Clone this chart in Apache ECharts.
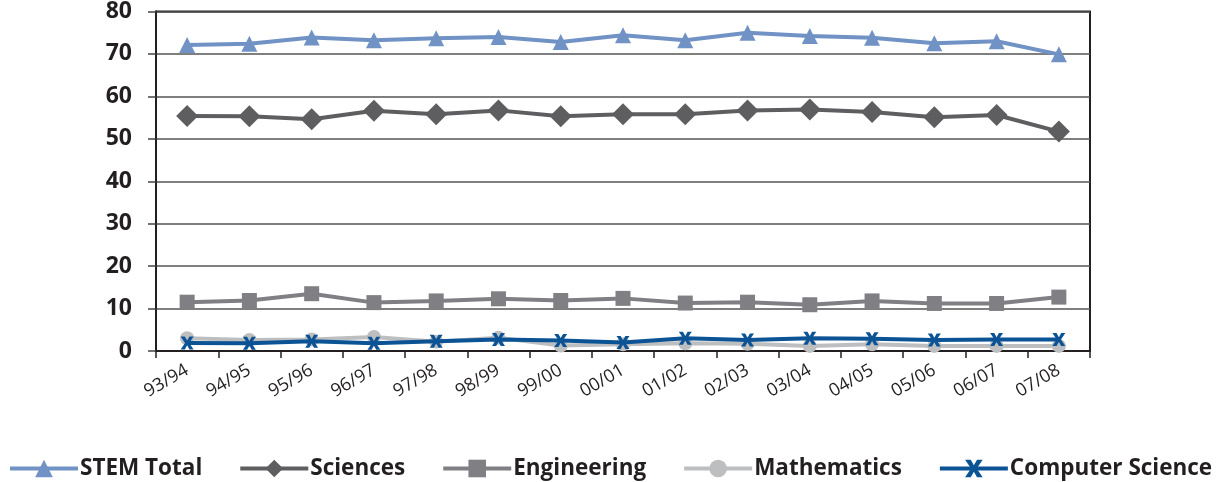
<!DOCTYPE html>
<html>
<head>
<meta charset="utf-8">
<script src="https://cdn.jsdelivr.net/npm/echarts@6/dist/echarts.min.js"></script>
<style>
  html, body { margin: 0; padding: 0; background: #fff; }
  #chart { width: 1217px; height: 482px; }
</style>
</head>
<body>
<div id="chart"></div>
<script>
// Academic years on the category axis
const years = ['93/94','94/95','95/96','96/97','97/98','98/99','99/00','00/01','01/02','02/03','03/04','04/05','05/06','06/07','07/08'];

// Series values (per year)
const stemTotal   = [72.1, 72.4, 73.9, 73.2, 73.7, 74.0, 72.8, 74.4, 73.2, 75.0, 74.2, 73.8, 72.5, 73.0, 69.9];
const sciences    = [55.4, 55.3, 54.6, 56.6, 55.8, 56.7, 55.3, 55.8, 55.8, 56.7, 56.9, 56.3, 55.1, 55.6, 51.7];
const engineering = [11.5, 11.9, 13.5, 11.4, 11.8, 12.3, 11.9, 12.4, 11.3, 11.5, 10.9, 11.8, 11.2, 11.2, 12.7];
const mathematics = [3.0, 2.6, 2.7, 3.3, 2.2, 3.1, 1.3, 1.6, 1.8, 1.7, 1.2, 1.6, 1.2, 1.2, 1.2];
const compSci     = [1.9, 1.8, 2.3, 1.8, 2.3, 2.7, 2.5, 2.0, 3.0, 2.6, 3.0, 2.9, 2.6, 2.7, 2.7];

// Y axis tick range
const yMin = 0, yMax = 80, yStep = 10;

const ink = '#231F20';
const xMark = 'path://M0,0 L3.2,0 L5,3.2 L6.8,0 L10,0 L6.6,5 L10,10 L6.8,10 L5,6.8 L3.2,10 L0,10 L3.4,5 Z';

function line(name, data, color, symbol, size, z) {
  return {
    name, type: 'line', data,
    symbol, symbolSize: size,
    z: z || 2,
    lineStyle: { color, width: 4 },
    itemStyle: { color },
    emphasis: { disabled: true },
    animation: false
  };
}

const chart = echarts.init(document.getElementById('chart'));
chart.setOption({
  animation: false,
  grid: {
    left: 156, right: 127, top: 11, bottom: 131,
    show: true, borderColor: ink, borderWidth: 2, backgroundColor: 'transparent'
  },
  legend: {
    bottom: -3, left: 3, width: 1280,
    itemWidth: 68, itemHeight: 22, itemGap: 36,
    lineStyle: { width: 4 },
    textStyle: { fontFamily: 'Open Sans', fontWeight: 'bold', fontSize: 22.5, color: ink, padding: [0, 0, 0, -3] },
    data: ['STEM Total', 'Sciences', 'Engineering', 'Mathematics', 'Computer Science']
  },
  xAxis: {
    type: 'category', data: years, boundaryGap: true,
    axisLine: { lineStyle: { color: ink, width: 2 } },
    axisTick: { show: true, length: 7, lineStyle: { color: ink, width: 1.5 }, alignWithLabel: false },
    axisLabel: { rotate: 30, margin: 18, fontFamily: 'Open Sans', fontSize: 18, color: ink, interval: 0 }
  },
  yAxis: {
    type: 'value', min: yMin, max: yMax, interval: yStep,
    axisLine: { show: true, lineStyle: { color: ink, width: 2 } },
    axisTick: { show: true, inside: false, length: 8, lineStyle: { color: '#444', width: 1.5 } },
    splitLine: { lineStyle: { color: '#555', width: 1.5 } },
    axisLabel: {
      margin: 24, color: ink,
      formatter: v => '{t|' + v + '}',
      rich: { t: { fontFamily: 'Open Sans', fontWeight: 'bold', fontSize: 23, color: ink } }
    }
  },
  series: [
    line('STEM Total', stemTotal, '#7092C4', 'triangle', 16, 3),
    line('Sciences', sciences, '#5E5E60', 'diamond', 22, 3),
    line('Engineering', engineering, '#808084', 'rect', 15, 3),
    line('Mathematics', mathematics, '#BDBEC0', 'circle', 14, 2),
    line('Computer Science', compSci, '#0B5394', xMark, 13, 4)
  ]
});
</script>
</body>
</html>
